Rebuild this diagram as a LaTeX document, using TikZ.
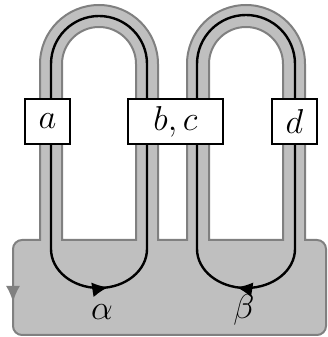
\documentclass[tikz,border=0pt]{standalone}
\usetikzlibrary{arrows.meta,decorations.markings}
\begin{document}
\begin{tikzpicture}[x=0.5pt,y=0.5pt,
  surf/.style={fill=gray!50, draw=gray, line width=1pt, even odd rule},
  curve/.style={line width=1.2pt},
  lbl/.style={draw, fill=white, line width=0.8pt, minimum height=22.5pt, minimum width=22.5pt, inner sep=0pt, font=\LARGE},
  greek/.style={font=\LARGE},
  midarrow/.style={postaction={decorate}, decoration={markings,
    mark=at position #1 with {\arrow{Latex[length=8pt,width=7.5pt]}}}}]
\useasboundingbox (0,0) rectangle (327,337);
% surface: base with two bands
\path[surf] (40,97) -- (40,273) arc[start angle=180,end angle=0,radius=59]
  -- (158,97) -- (187,97) -- (187,273) arc[start angle=180,end angle=0,radius=59]
  -- (305,97) -- (317,97) arc[start angle=90,end angle=0,radius=9]
  -- (326,11) arc[start angle=0,end angle=-90,radius=9]
  -- (22,2) arc[start angle=270,end angle=180,radius=9]
  -- (13,88) arc[start angle=180,end angle=90,radius=9] -- cycle
  % holes:
  (62,97) -- (62,273) arc[start angle=180,end angle=0,radius=37] -- (136,97) -- cycle
  (209,97) -- (209,273) arc[start angle=180,end angle=0,radius=37] -- (283,97) -- cycle;
\draw[gray, line width=1pt, -{Latex[length=8pt,width=7pt]}] (13,56) -- (13,35);
% curves:
\draw[curve, midarrow=0.91] (147,88) -- (147,273) arc[start angle=0,end angle=180,radius=48]
  -- (51,88) arc[start angle=180,end angle=360,x radius=48,y radius=39];
\draw[curve, midarrow=0.91] (197,88) -- (197,273) arc[start angle=180,end angle=0,radius=49]
  -- (295,88) arc[start angle=0,end angle=-180,x radius=49,y radius=39];
% labels:
\node[lbl] (lblA) at (47.5,215.5) {$a$};
\node[lbl, minimum width=47.5pt] (lblBC) at (175.5,215.5) {$b,c$};
\node[lbl] (lblD) at (294.5,215.5) {$d$};
\node[greek] (alpha) at (102,25) {$\alpha$};
\node[greek] (beta) at (244,27) {$\beta$};
\end{tikzpicture}
\end{document}
